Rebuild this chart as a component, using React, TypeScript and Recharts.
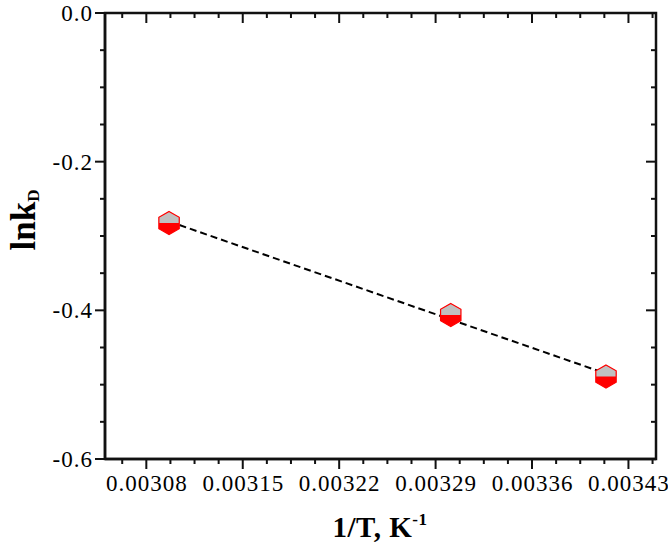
import { ComposedChart, Scatter, Line, XAxis, YAxis } from 'recharts';

// measured points (1/T, lnkD)
const invT = [0.0030965, 0.003301, 0.0034137];
const lnKD = [-0.2825, -0.4063, -0.489];

// linear fit end points
const fitX = [0.0030965, 0.0034137];
const fitY = [-0.2804, -0.4851];

const xMajor = [0.00308, 0.00315, 0.00322, 0.00329, 0.00336, 0.00343];
const yMajor = [0, -0.2, -0.4, -0.6];

const points = invT.map((x, i) => ({ x, y: lnKD[i] }));
const fitLine = fitX.map((x, i) => ({ x, y: fitY[i] }));

// minor ticks: 3 between each major, plus one outside each end
const xStep = 0.0000175;
const xTicks: number[] = [];
for (let i = -1; i <= (xMajor.length - 1) * 4 + 1; i++) xTicks.push(+(xMajor[0] + i * xStep).toFixed(7));
const yTicks: number[] = [];
for (let i = 0; i <= 12; i++) yTicks.push(+(-i * 0.05).toFixed(2));

const isMajor = (v: number, majors: number[]) => majors.some((m) => Math.abs(m - v) < 1e-9);

const FONT = 'Liberation Serif';
const CHART_W = 668;
const CHART_H = 555;
const PLOT_TOP = 13;
const PLOT_RIGHT = 656;

// bottom tick (outward) + matching inward tick on the top frame
const bottomTick = (props: any) => {
    const { x, y, payload } = props;
    const major = isMajor(payload.value, xMajor);
    const len = major ? 10 : 5;
    return (
        <g key={`b${payload.value}`}>
            <line x1={x} y1={y} x2={x} y2={y + len} stroke="#111" strokeWidth={2} />
            <line x1={x} y1={13} x2={x} y2={13 + len} stroke="#111" strokeWidth={2} />
            {major && (
                <text x={x + 0.5} y={y + 32} textAnchor="middle" fontFamily={FONT} fontSize={23} letterSpacing={1} fill="#000">
                    {payload.value.toFixed(5)}
                </text>
            )}
        </g>
    );
};

// left tick (outward) + matching inward tick on the right frame
const leftTick = (props: any) => {
    const { x, y, payload } = props;
    const major = isMajor(payload.value, yMajor);
    const len = major ? 10 : 5;
    return (
        <g key={`l${payload.value}`}>
            <line x1={x} y1={y} x2={x - len} y2={y} stroke="#111" strokeWidth={2} />
            <line x1={656} y1={y} x2={656 - len} y2={y} stroke="#111" strokeWidth={2} />
            {major && (
                <text x={x - 12} y={y + 8} textAnchor="end" fontFamily={FONT} fontSize={23} letterSpacing={1} fill="#000">
                    {payload.value === 0 ? '0.0' : payload.value.toFixed(1)}
                </text>
            )}
        </g>
    );
};

const Hexagon = (props: any) => {
    const { cx, cy } = props;
    const r = 11.5;
    const w = 10.2;
    const full = `${cx},${cy - r} ${cx + w},${cy - r / 2} ${cx + w},${cy + r / 2} ${cx},${cy + r} ${cx - w},${cy + r / 2} ${cx - w},${cy - r / 2}`;
    const top = `${cx - w},${cy} ${cx - w},${cy - r / 2} ${cx},${cy - r} ${cx + w},${cy - r / 2} ${cx + w},${cy}`;
    return (
        <g>
            <polygon points={full} fill="#ff0000" />
            <polygon points={top} fill="#c0c0c0" />
            <polygon points={full} fill="none" stroke="#ff0000" strokeWidth={1.2} />
        </g>
    );
};

const axisLine = { stroke: '#111', strokeWidth: 2.5 };

export default function App() {
    return (
        <div style={{ width: CHART_W, height: CHART_H, background: '#fff' }}>
            <style>{'body{margin:0}'}</style>
            <ComposedChart width={CHART_W} height={CHART_H} margin={{ top: PLOT_TOP, right: CHART_W - PLOT_RIGHT, bottom: 0, left: 0 }}>
                <XAxis
                    xAxisId="b" type="number" dataKey="x"
                    domain={[0.00305, 0.00345]} ticks={xTicks} interval={0}
                    tickSize={0} tickMargin={0} tickLine={false} tick={bottomTick}
                    height={96} axisLine={axisLine}
                />
                <YAxis
                    yAxisId="l" type="number" dataKey="y"
                    domain={[-0.6, 0]} ticks={yTicks} interval={0}
                    tickSize={0} tickMargin={0} tickLine={false} tick={leftTick}
                    width={105} axisLine={axisLine}
                />
                <Scatter xAxisId="b" yAxisId="l" data={points} dataKey="y" shape={<Hexagon />} isAnimationActive={false} />
                <Line
                    xAxisId="b" yAxisId="l" data={fitLine} dataKey="y" type="linear"
                    stroke="#000" strokeWidth={2} strokeDasharray="7 4" dot={false}
                    activeDot={false} isAnimationActive={false}
                />
                <rect x={105} y={13} width={551} height={446} fill="none" stroke="#111" strokeWidth={2.5} />
                <text x={380} y={537} textAnchor="middle" fontFamily={FONT} fontWeight="bold" fontSize={29} letterSpacing={0.5} fill="#000">
                    1/T, K<tspan dy={-12} fontSize={17}>-1</tspan>
                </text>
                <text x={35} y={220} transform="rotate(-90, 35, 220)" textAnchor="middle" fontFamily={FONT} fontWeight="bold" fontSize={35} fill="#000">
                    lnk<tspan dy={4} fontSize={17}>D</tspan>
                </text>
            </ComposedChart>
        </div>
    );
}
